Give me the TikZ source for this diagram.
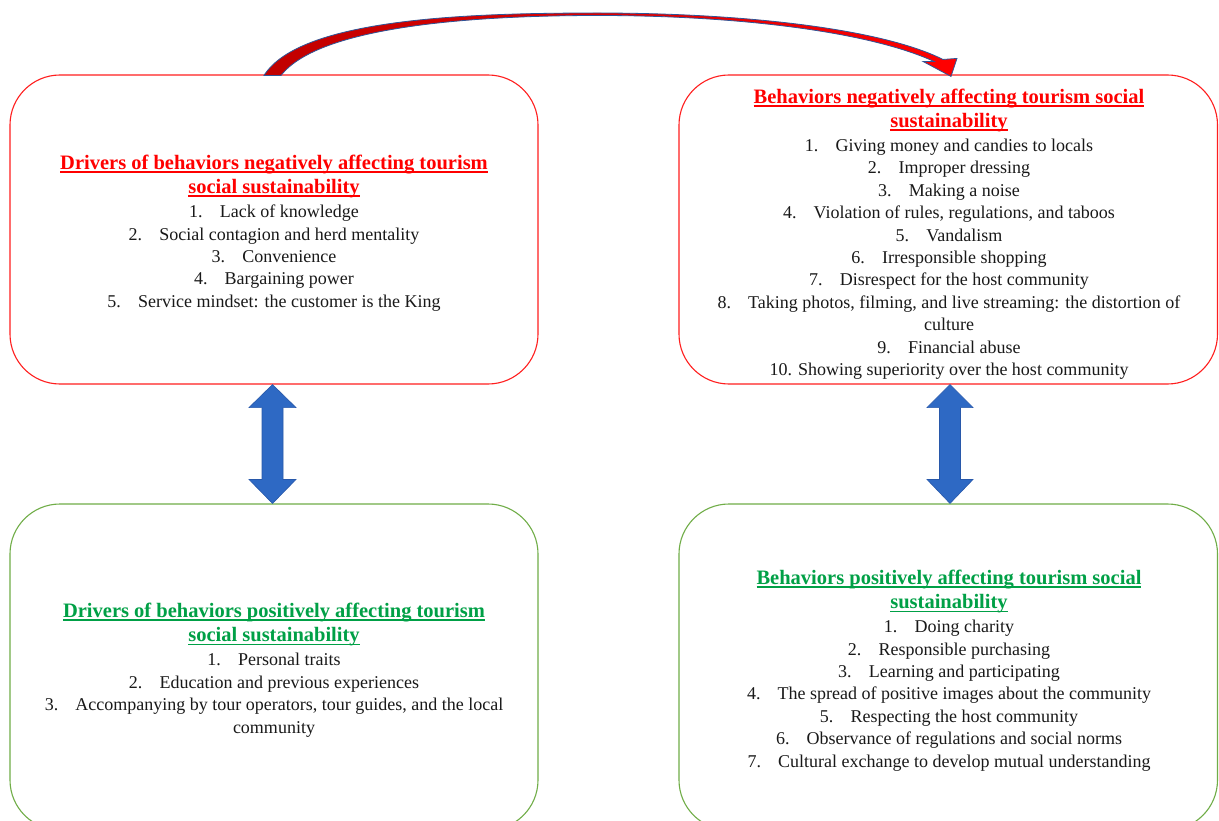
\documentclass[tikz,border=0pt]{standalone}
\usepackage{fontspec}
\setmainfont{Liberation Serif}
\usetikzlibrary{calc}
\definecolor{ttlred}{RGB}{255,0,0}
\definecolor{ttlgreen}{RGB}{0,160,70}
\definecolor{boxred}{RGB}{255,30,30}
\definecolor{boxgreen}{RGB}{112,173,71}
\definecolor{arrblue}{RGB}{46,105,196}
\definecolor{arredge}{RGB}{40,88,170}
\definecolor{curvedark}{RGB}{192,0,0}
\definecolor{curvelight}{RGB}{255,0,0}
\definecolor{curveedge}{RGB}{47,85,151}
\definecolor{bodytext}{RGB}{25,25,25}
\newsavebox\ulbox
\newcommand\ulin[1]{\sbox\ulbox{#1}\rlap{\rule[-3.5pt]{\wd\ulbox}{1.8pt}}\usebox\ulbox}
\newcommand\bodyfont{\fontsize{18}{22.4}\selectfont}
\newcommand\titlefont{\fontsize{20.5}{24.5}\selectfont\bfseries}
\newcommand\ttlR[1]{{\titlefont\color{ttlred}\ulin{#1}}}
\newcommand\ttlG[1]{{\titlefont\color{ttlgreen}\ulin{#1}}}
\newcommand\itm[2]{#1.\hspace{0.95em}#2}
\begin{document}
\begin{tikzpicture}[x=1pt,y=-1pt,
  boxbase/.style={draw, rounded corners=50pt, line width=1.1pt, inner sep=0pt},
  redbox/.style={boxbase, draw=boxred},
  greenbox/.style={boxbase, draw=boxgreen},
  txt/.style={align=center, font=\bodyfont, text=bodytext, inner sep=0pt},
  dblarrow/.style={fill=arrblue, draw=arredge, line width=0.6pt},
  curvearrow/.style={left color=curvedark, right color=curvelight, draw=curveedge, line width=0.8pt}]
\useasboundingbox (0,0) rectangle (1219,821);
\clip (0,0) rectangle (1219,821);
\fill[white] (0,0) rectangle (1219,821);

% boxes
\node[redbox, minimum width=528pt, minimum height=309pt] (b1) at (274,229.5) {};
\node[redbox, minimum width=538.5pt, minimum height=309pt] (b2) at (948.25,229.5) {};
\node[greenbox, minimum width=528pt, minimum height=326pt] (b3) at (274,667) {};
\node[greenbox, minimum width=538.5pt, minimum height=326pt] (b4) at (948.25,667) {};

% texts
\node[txt] (t1) at (274,233) {\ttlR{Drivers of behaviors negatively affecting tourism}\\[2pt]
\ttlR{social sustainability}\\[1.5pt]
\itm{1}{Lack of knowledge}\\
\itm{2}{Social contagion and herd mentality}\\
\itm{3}{Convenience}\\
\itm{4}{Bargaining power}\\
\itm{5}{Service mindset: the customer is the King}};

\node[txt] (t2) at (949,234) {\ttlR{Behaviors negatively affecting tourism social}\\[2pt]
\ttlR{sustainability}\\[1.5pt]
\itm{1}{Giving money and candies to locals}\\
\itm{2}{Improper dressing}\\
\itm{3}{Making a noise}\\
\itm{4}{Violation of rules, regulations, and taboos}\\
\itm{5}{Vandalism}\\
\itm{6}{Irresponsible shopping}\\
\itm{7}{Disrespect for the host community}\\
\itm{8}{Taking photos, filming, and live streaming: the distortion of}\\
culture\\
\itm{9}{Financial abuse}\\
10. Showing superiority over the host community};

\node[txt] (t3) at (274,670) {\ttlG{Drivers of behaviors positively affecting tourism}\\[2pt]
\ttlG{social sustainability}\\[1.5pt]
\itm{1}{Personal traits}\\
\itm{2}{Education and previous experiences}\\
\itm{3}{Accompanying by tour operators, tour guides, and the local}\\
community};

\node[txt] (t4) at (949,670.5) {\ttlG{Behaviors positively affecting tourism social}\\[2pt]
\ttlG{sustainability}\\[1.5pt]
\itm{1}{Doing charity}\\
\itm{2}{Responsible purchasing}\\
\itm{3}{Learning and participating}\\
\itm{4}{The spread of positive images about the community}\\
\itm{5}{Respecting the host community}\\
\itm{6}{Observance of regulations and social norms}\\
\itm{7}{Cultural exchange to develop mutual understanding}};

% vertical double arrows between boxes
\coordinate (la) at ($(b1.south)+(-1.5,0)$);
\coordinate (lb) at ($(b3.north)+(-1.5,0)$);
\draw[dblarrow] (la) -- ++(23.5,23) -- ++(-13,0) |- ($(lb)+(10.5,-24)$) -- ++(13,0) -- (lb)
  -- ++(-23.5,-24) -- ++(13,0) |- ($(la)+(-10.5,23)$) -- ++(-13,0) -- cycle;
\coordinate (ra) at ($(b2.south)+(1.75,0)$);
\coordinate (rb) at ($(b4.north)+(1.75,0)$);
\draw[dblarrow] (ra) -- ++(23,23) -- ++(-12.5,0) |- ($(rb)+(10.5,-24)$) -- ++(12.5,0) -- (rb)
  -- ++(-23,-24) -- ++(12.5,0) |- ($(ra)+(-10.5,23)$) -- ++(-12.5,0) -- cycle;

% curved arrow from b1 to b2
\coordinate (cs1) at ($(b1.north)+(-10,1)$);
\coordinate (cs2) at ($(b1.north)+(7,1)$);
\coordinate (ctip) at ($(b2.north)+(2.75,2)$);
\draw[curvearrow] (cs1) .. controls (300,18) and (470,13) .. (598,13)
  .. controls (740,13) and (880,28) .. ($(ctip)+(-8,-17)$)
  -- ($(ctip)+(6,-18)$) -- (ctip) -- ($(ctip)+(-28,-15)$) -- ($(ctip)+(-17,-15)$)
  .. controls (870,32) and (740,15.5) .. (598,15.5)
  .. controls (480,15.5) and (320,25) .. (cs2) -- cycle;
\end{tikzpicture}
\end{document}
